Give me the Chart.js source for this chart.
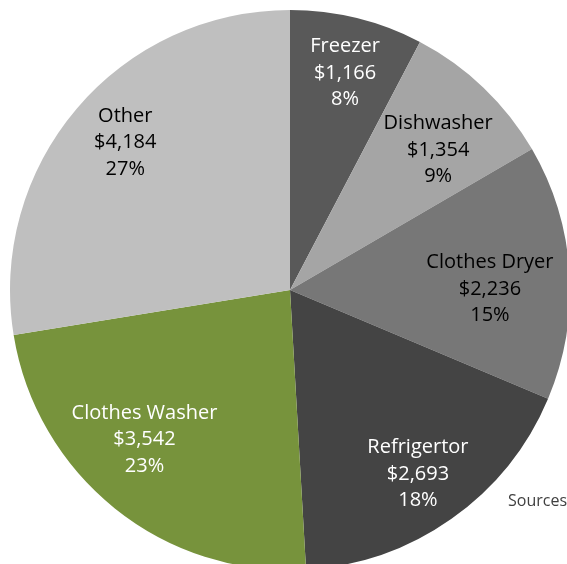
<!DOCTYPE html>
<html>
<head>
<meta charset="utf-8">
<script src="https://cdn.jsdelivr.net/npm/chart.js@4/dist/chart.umd.min.js"></script>
<style>
  html, body { margin: 0; padding: 0; background: #fff; }
  #wrap { position: relative; width: 567px; height: 564px; overflow: hidden; }
  #wrap canvas { position: absolute; left: 0; top: 0; }
  #src { position: absolute; left: 508px; top: 489px; font: 16px 'Open Sans', sans-serif;
         color: #404040; white-space: nowrap; }
</style>
</head>
<body>
<div id="wrap">
  <canvas id="c" width="580" height="580" style="width:580px;height:580px"></canvas>
  <div id="src">Sources: EIA</div>
</div>
<script>
  // values, clockwise from 12 o'clock
  var categories = ['Freezer', 'Dishwasher', 'Clothes Dryer', 'Refrigertor', 'Clothes Washer', 'Other'];
  var costs      = [1166, 1354, 2236, 2693, 3542, 4184];
  var percents   = ['8%', '9%', '15%', '18%', '23%', '27%'];

  var fills      = ['#595959', '#A5A5A5', '#777777', '#444444', '#77933C', '#BFBFBF'];
  var textColors = ['#FFFFFF', '#000000', '#000000', '#FFFFFF', '#FFFFFF', '#000000'];
  // label placement: fraction of radius, angle nudge in degrees
  var labelR     = [0.80, 0.728, 0.714, 0.80, 0.745, 0.79];
  var labelNudge = [0.4, 2.9, 3.4, 0.4, 5.5, 1.5];

  function money(v) { return '$' + v.toLocaleString('en-US'); }

  /* three-line label inside each slice, Excel style */
  var sliceLabels = {
    id: 'sliceLabels',
    afterDatasetsDraw: function (chart) {
      var ctx = chart.ctx;
      var meta = chart.getDatasetMeta(0);
      ctx.save();
      ctx.font = '20px "Open Sans", sans-serif';
      ctx.textAlign = 'center';
      ctx.textBaseline = 'middle';
      meta.data.forEach(function (arc, i) {
        var p = arc.getProps(['x', 'y', 'startAngle', 'endAngle', 'outerRadius'], true);
        var mid = (p.startAngle + p.endAngle) / 2 + labelNudge[i] * Math.PI / 180;
        var r = p.outerRadius * labelR[i];
        var x = p.x + Math.cos(mid) * r;
        var y = p.y + Math.sin(mid) * r;
        ctx.fillStyle = textColors[i];
        ctx.fillText(categories[i], x, y - 26.5);
        ctx.fillText(money(costs[i]), x, y);
        ctx.fillText(percents[i], x, y + 26.5);
      });
      ctx.restore();
    }
  };

  new Chart(document.getElementById('c').getContext('2d'), {
    type: 'pie',
    data: {
      labels: categories,
      datasets: [{ data: costs, backgroundColor: fills, borderWidth: 0 }]
    },
    options: {
      responsive: false,
      animation: false,
      layout: { padding: 10 },
      plugins: { legend: { display: false }, tooltip: { enabled: false } }
    },
    plugins: [sliceLabels]
  });
</script>
</body>
</html>
